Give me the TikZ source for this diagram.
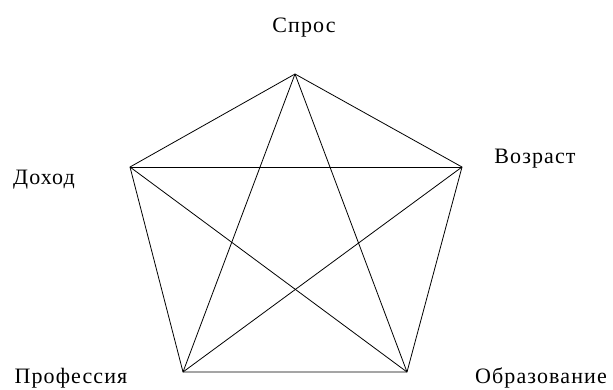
\documentclass[tikz,border=0pt]{standalone}
\usepackage{fontspec}
\setmainfont{Liberation Serif}[LetterSpace=5]
\begin{document}
\begin{tikzpicture}[x=1pt,y=-1pt,line width=0.8pt,
  lbl/.style={font=\fontsize{22}{26}\selectfont, inner sep=0pt, anchor=base}]
\useasboundingbox (0,0) rectangle (613,389);
\coordinate (spros) at (295,74);
\coordinate (dohod) at (130,167);
\coordinate (vozrast) at (462,167);
\coordinate (prof) at (183,372);
\coordinate (obr) at (407,372);
\node[lbl] (tspros) at (304,32) {Спрос};
\node[lbl] (tdohod) at (44,184) {Доход};
\node[lbl] (tvozrast) at (535,163) {Возраст};
\node[lbl] (tprof) at (71,383) {Профессия};
\node[lbl] (tobr) at (541,383) {Образование};
\draw (spros) -- (vozrast) -- (obr) -- (prof) -- (dohod) -- cycle;
\draw (spros) -- (obr);
\draw (spros) -- (prof);
\draw (dohod) -- (vozrast);
\draw (dohod) -- (obr);
\draw (vozrast) -- (prof);
\end{tikzpicture}
\end{document}
